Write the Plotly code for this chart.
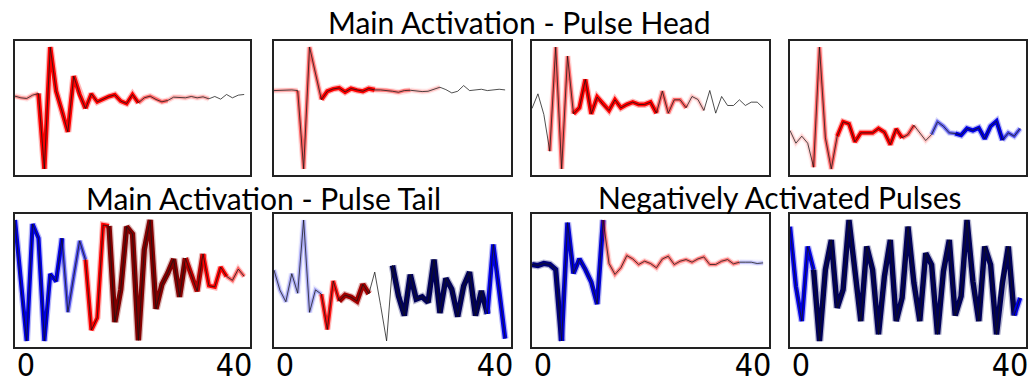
import numpy as np
import plotly.graph_objects as go
from plotly.subplots import make_subplots

x_idx = list(range(40))

# signal values (arbitrary units) per panel
head_1 = [225, 220, 218, 228, 233, 7, 372, 240, 180, 118, 285, 230, 188, 232, 208, 217, 224, 229, 210, 203,
          230, 205, 220, 225, 215, 208, 212, 222, 222, 220, 224, 220, 223, 217, 224, 216, 230, 220, 228, 230]
head_2 = [242, 243, 243, 244, 242, 8, 372, 295, 215, 240, 247, 250, 238, 248, 243, 240, 248, 244, 244, 243,
          240, 237, 242, 243, 240, 239, 240, 245, 252, 245, 235, 240, 257, 242, 245, 246, 242, 244, 246, 244]
head_3 = [188, 232, 170, 60, 372, 7, 345, 172, 190, 275, 172, 222, 200, 182, 214, 190, 200, 207, 200, 200,
          207, 174, 240, 174, 214, 214, 190, 224, 215, 182, 242, 174, 224, 197, 197, 214, 197, 207, 207, 190]
head_4 = [122, 84, 105, 84, 12, 372, 100, 7, 105, 148, 142, 88, 115, 115, 115, 128, 117, 80, 127, 100,
          110, 138, 115, 92, 110, 148, 135, 115, 113, 108, 128, 122, 130, 97, 135, 150, 93, 115, 105, 128]
tail_1 = [370, 170, 5, 358, 315, 5, 207, 185, 315, 92, 200, 307, 250, 38, 75, 355, 352, 62, 160, 350,
          328, 7, 280, 370, 102, 175, 210, 252, 138, 255, 205, 155, 268, 172, 168, 228, 200, 188, 222, 200]
tail_2 = [218, 157, 122, 207, 148, 370, 90, 158, 145, 38, 185, 124, 142, 136, 124, 175, 146, 212, 110, 3,
          232, 140, 80, 204, 130, 137, 120, 250, 88, 193, 160, 77, 170, 212, 80, 155, 85, 296, 155, 10]
neg_1 = [235, 232, 238, 235, 220, 3, 362, 208, 252, 220, 182, 115, 370, 238, 205, 225, 262, 252, 235, 245,
         238, 225, 252, 260, 235, 245, 250, 242, 252, 258, 235, 235, 245, 250, 237, 242, 242, 242, 238, 240]
neg_2 = [350, 170, 65, 290, 220, 5, 220, 310, 105, 160, 370, 200, 65, 290, 220, 25, 200, 310, 65, 135,
         350, 180, 65, 270, 235, 25, 215, 310, 82, 140, 370, 185, 65, 290, 235, 25, 180, 290, 82, 135]

# attribution (signed relevance) per point; segment i -> i+1 uses value at i
attr_head_1 = [0.25, 0.25, 0.25, 0.25, 0.7, 0.7, 0.7, 0.7, 0.7, 0.7, 0.7, 0.7, 0.6, 0.6, 0.6, 0.6,
               0.6, 0.6, 0.6, 0.6, 0.6, 0.35, 0.35, 0.35, 0.35, 0.35, 0.2, 0.2, 0.2, 0.2, 0.2, 0.2, 0.2,
               0.05, 0.05, 0.05, 0.05, 0.05, 0.05, 0.05]
attr_head_2 = [0.2, 0.2, 0.2, 0.2, 0.35, 0.35, 0.35, 0.35, 0.65, 0.65, 0.65, 0.65, 0.65, 0.65, 0.65, 0.65,
               0.65, 0.3, 0.3, 0.3, 0.3, 0.3, 0.3, 0.15, 0.15, 0.15, 0.15, 0.15, 0.03, 0.03, 0.03, 0.03,
               0.03, 0.03, 0.03, 0.03, 0.03, 0.03, 0.03, 0.03]
attr_head_3 = [0.05, 0.05, 0.05, 0.35, 0.35, 0.35, 0.35, 0.65, 0.65, 0.65, 0.65, 0.65, 0.65, 0.65, 0.65,
               0.65, 0.65, 0.65, 0.65, 0.65, 0.65, 0.35, 0.35, 0.35, 0.35, 0.35, 0.15, 0.15, 0.15, 0.03,
               0.03, 0.03, 0.03, 0.03, 0.03, 0.03, 0.03, 0.03, 0.03, 0.03]
attr_head_4 = [0.12, 0.12, 0.12, 0.12, 0.35, 0.35, 0.35, 0.35, 0.6, 0.6, 0.6, 0.6, 0.6, 0.6, 0.6, 0.6,
               0.6, 0.6, 0.6, 0.4, 0.4, 0.15, 0.15, 0.15, -0.35, -0.35, -0.35, -0.35, -0.65, -0.65, -0.65,
               -0.65, -0.65, -0.65, -0.65, -0.65, -0.4, -0.4, -0.4, -0.4]
attr_tail_1 = [-0.65, -0.65, -0.65, -0.65, -0.65, -0.65, -0.65, -0.65, -0.4, -0.4, -0.4, -0.4, 0.62, 0.62,
               0.62, 0.62, 0.93, 0.93, 0.93, 0.93, 0.93, 0.93, 0.93, 0.93, 0.93, 0.93, 0.93, 0.93, 0.93,
               0.84, 0.84, 0.84, 0.62, 0.62, 0.62, 0.62, 0.35, 0.35, 0.35, 0.35]
attr_tail_2 = [-0.2, -0.2, -0.2, -0.2, -0.2, -0.2, -0.2, -0.2, 0.55, 0.55, 0.55, 0.88, 0.88, 0.88, 0.88,
               0.88, 0.03, 0.03, 0.03, 0.03, -0.95, -0.95, -0.95, -0.95, -0.95, -0.95, -0.95, -0.95, -0.95,
               -0.95, -0.95, -0.95, -0.95, -0.95, -0.95, -0.95, -0.7, -0.7, -0.7, -0.7]
attr_neg_1 = [-0.9, -0.9, -0.9, -0.9, -0.9, -0.75, -0.75, -0.75, -0.75, -0.75, -0.75, -0.75, 0.3, 0.3, 0.3,
              0.3, 0.3, 0.3, 0.3, 0.3, 0.3, 0.3, 0.3, 0.3, 0.3, 0.3, 0.3, 0.3, 0.3, 0.3, 0.3, 0.3, 0.3, 0.3,
              0.3, -0.15, -0.15, -0.15, -0.15, -0.15]
attr_neg_2 = [-0.7, -0.7, -0.7, -0.7, -0.95, -0.95, -0.95, -0.95, -0.95, -0.95, -0.95, -0.95,
              -0.95, -0.95, -0.95, -0.95, -0.95, -0.95, -0.95, -0.95, -0.95, -0.95, -0.95, -0.95, -0.95,
              -0.95, -0.95, -0.95, -0.95, -0.95, -0.95, -0.95, -0.95, -0.95, -0.95, -0.95, -0.95, -0.95,
              -0.7, -0.7]

panels = [(head_1, attr_head_1), (head_2, attr_head_2), (head_3, attr_head_3), (head_4, attr_head_4),
          (tail_1, attr_tail_1), (tail_2, attr_tail_2), (neg_1, attr_neg_1), (neg_2, attr_neg_2)]

x_first_tick, x_last_tick = 0, 40

titles = [("Main Activation - Pulse Head", 0.503, 0.943),
          ("Main Activation - Pulse Tail", 0.255, 0.486),
          ("Negatively Activated Pulses", 0.756, 0.488)]

TICK_FONT = dict(family="DejaVu Sans Condensed, Liberation Sans Narrow, Arial Narrow, DejaVu Sans",
                 size=32, color="black")


def style(a):
    m = abs(a)
    if m < 0.08:
        return None
    base = (255, 0, 0) if a >= 0 else (0, 0, 230)
    dark = (100, 0, 0) if a >= 0 else (0, 0, 70)
    if m <= 0.72:
        col = base
        alpha = min(1.0, (m / 0.6) ** 1.2)
    else:
        t = min(1.0, (m - 0.72) / 0.26)
        col = tuple(int(round(b + (d - b) * t)) for b, d in zip(base, dark))
        alpha = 1.0
    width = 3.6 + 2.0 * max(0.0, (m - 0.5) / 0.5)
    return col, alpha, width


fig = make_subplots(rows=2, cols=4, horizontal_spacing=0.02, vertical_spacing=0.1)

xdom = [[0.0145, 0.2423], [0.2655, 0.4952], [0.5155, 0.7452], [0.7655, 0.9942]]
ydom = [[0.5455, 0.8935], [0.0987, 0.4442]]

for k, (vals, attr) in enumerate(panels):
    r, c = k // 4 + 1, k % 4 + 1
    runs = []
    start = 0
    for i in range(1, 40):
        if i == 39 or attr[i] != attr[start]:
            runs.append((start, i, attr[start]))
            start = i
    glow_traces, core_traces = [], []
    for s, e, a in runs:
        st = style(a)
        if st is None:
            continue
        col, alpha, width = st
        xs = x_idx[s:e + 1]
        ys = vals[s:e + 1]
        glow_traces.append(go.Scatter(x=xs, y=ys, mode="lines", hoverinfo="skip",
                                      line=dict(color="rgba(%d,%d,%d,%.3f)" % (col + (alpha * 0.28,)),
                                                width=width + 2.6), showlegend=False))
        core_traces.append(go.Scatter(x=xs, y=ys, mode="lines", hoverinfo="skip",
                                      line=dict(color="rgba(%d,%d,%d,%.3f)" % (col + (alpha,)), width=width),
                                      showlegend=False))
    for t in glow_traces + core_traces:
        fig.add_trace(t, row=r, col=c)
    fig.add_trace(go.Scatter(x=x_idx, y=vals, mode="lines", hoverinfo="skip",
                             line=dict(color="rgba(20,20,20,0.75)", width=1.0), showlegend=False),
                  row=r, col=c)
    lo, hi = min(vals), max(vals)
    pad = 0.05 * (hi - lo)
    fig.update_yaxes(range=[lo - pad, hi + pad], domain=ydom[r - 1], showticklabels=False, ticks="",
                     showgrid=False, zeroline=False, showline=True, mirror=True, automargin=False,
                     linecolor="#222", linewidth=1.5, row=r, col=c)
    fig.update_xaxes(range=[0, 40], domain=xdom[c - 1], showgrid=False, zeroline=False, showline=True,
                     mirror=True, linecolor="#222", linewidth=1.5, ticks="", automargin=False,
                     showticklabels=False, row=r, col=c)

# overlaying x axes on the bottom row carry the "0" and "40" tick labels
ax_n = 9
for j in range(4):
    base_ax = 5 + j
    for tv, shift in ((x_first_tick, 11), (x_last_tick, -16)):
        fig.update_layout(**{
            "xaxis%d" % ax_n: dict(overlaying="x%d" % base_ax, anchor="y%d" % base_ax, side="bottom",
                                   domain=xdom[j], range=[0, 40], tickvals=[tv], ticktext=[str(tv)],
                                   ticklabelshift=shift, ticklabelstandoff=-4,
                                   showgrid=False, zeroline=False, showline=False, ticks="",
                                   automargin=False, tickfont=TICK_FONT)
        })
        fig.add_trace(go.Scatter(x=[None], y=[None], xaxis="x%d" % ax_n, yaxis="y%d" % base_ax,
                                 showlegend=False, hoverinfo="skip"))
        ax_n += 1

for text, xp, yp in titles:
    fig.add_annotation(text=text, x=xp, y=yp, xref="paper", yref="paper", showarrow=False,
                       xanchor="center", yanchor="middle",
                       font=dict(family="Lato", size=30, color="black"))

fig.update_layout(width=1032, height=385, margin=dict(l=0, r=0, t=0, b=0),
                  paper_bgcolor="white", plot_bgcolor="white")

fig.write_html("out.html")
